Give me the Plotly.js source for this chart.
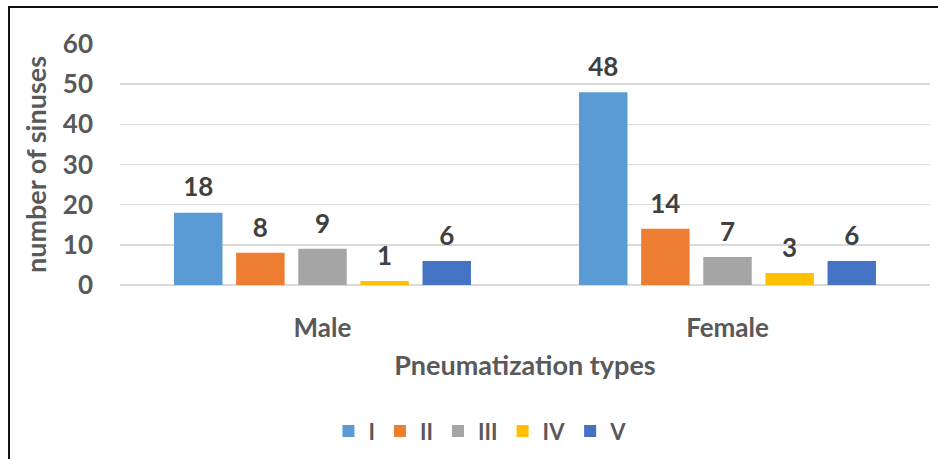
<!DOCTYPE html>
<html>
<head>
<meta charset="utf-8">
<script src="https://cdn.plot.ly/plotly-3.0.1.min.js"></script>
<style>
html,body{margin:0;padding:0;background:#fff;}
#wrap{position:relative;width:938px;height:459px;}
#chart{width:938px;height:459px;}
#frame{position:absolute;left:8px;top:6px;width:940px;height:470px;border-left:2px solid #111;border-top:2px solid #111;pointer-events:none;}
</style>
</head>
<body>
<div id="wrap"><div id="chart"></div><div id="frame"></div></div>
<script>
const categories = ["Male", "Female"];
const seriesNames = ["I", "II", "III", "IV", "V"];
const typeI = [18, 48];
const typeII = [8, 14];
const typeIII = [9, 7];
const typeIV = [1, 3];
const typeV = [6, 6];
const colors = ["#5B9BD5", "#ED7D31", "#A5A5A5", "#FFC000", "#4472C4"];
const yTicks = [0, 10, 20, 30, 40, 50, 60];

const values = [typeI, typeII, typeIII, typeIV, typeV];
const font = "Lato, 'Open Sans', sans-serif";

const traces = [];
values.forEach((v, i) => {
  traces.push({
    type: "bar", name: seriesNames[i], x: categories, y: v,
    marker: {color: colors[i]}, offsetgroup: "g" + i, hoverinfo: "y"
  });
});
values.forEach((v, i) => {
  traces.push({
    type: "scatter", mode: "markers+text", x: categories, y: v,
    text: v.map(String), textposition: "top center",
    textfont: {family: font, size: 26, color: "#404040", weight: "bold"},
    marker: {size: 14, color: "rgba(0,0,0,0)"},
    offsetgroup: "g" + i, showlegend: false, hoverinfo: "skip", cliponaxis: false
  });
});

const layout = {
  width: 938, height: 459,
  margin: {l: 120, r: 8, t: 44, b: 173},
  paper_bgcolor: "rgba(0,0,0,0)", plot_bgcolor: "rgba(0,0,0,0)",
  font: {family: font, color: "#595959"},
  barmode: "group", bargap: 0.233, bargroupgap: 0.22,
  scattermode: "group", scattergap: 0.233,
  showlegend: true,
  legend: {orientation: "h", x: 0.445, xanchor: "center", y: -0.6, yanchor: "middle",
           font: {family: font, size: 22, color: "#595959", weight: "bold"},
           itemwidth: 30, tracegroupgap: 0},
  xaxis: {
    type: "category", showgrid: false, zeroline: false, showline: false,
    tickfont: {family: font, size: 26, color: "#595959", weight: "bold"},
    ticklabelstandoff: 25,
    title: {text: "Pneumatization types", standoff: 14,
            font: {family: font, size: 27, color: "#595959", weight: "bold"}}
  },
  yaxis: {
    range: [0, 60], tickvals: yTicks, showgrid: true, gridcolor: "#D9D9D9", gridwidth: 1.5,
    zeroline: true, zerolinecolor: "#D9D9D9", zerolinewidth: 1.5, showline: false,
    tickfont: {family: font, size: 26, color: "#595959", weight: "bold"},
    ticklabelstandoff: 26,
    title: {text: "number of sinuses", standoff: 8,
            font: {family: font, size: 27, color: "#595959", weight: "bold"}}
  }
};

Plotly.newPlot("chart", traces, layout, {displayModeBar: false, staticPlot: true});
</script>
</body>
</html>
